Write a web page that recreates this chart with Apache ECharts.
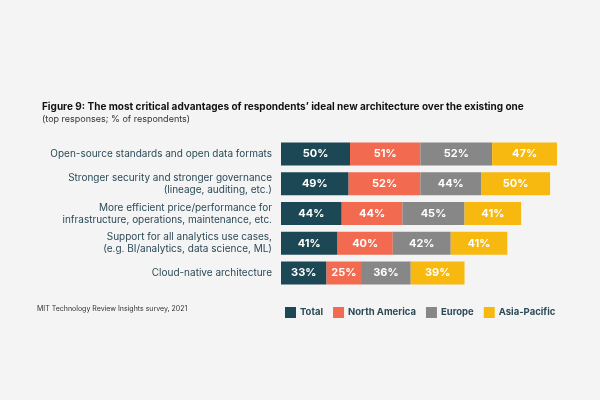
<!DOCTYPE html>
<html>
<head>
<meta charset="utf-8">
<script src="https://cdn.jsdelivr.net/npm/echarts@6/dist/echarts.min.js"></script>
<style>
html,body{margin:0;padding:0;background:#f4f4f4;}
#container1{width:600px;height:400px;}
</style>
</head>
<body>
<div id="container1"></div>
<script>
var categories = [
	'Open-source standards and open data formats',
	'Stronger security and stronger governance\n(lineage, auditing, etc.)',
	'More efficient price/performance for\ninfrastructure, operations, maintenance, etc.',
	'Support for all analytics use cases,\n(e.g. BI/analytics, data science, ML)',
	'Cloud-native architecture'
];
var seriesNames = ['Total', 'North America', 'Europe', 'Asia-Pacific'];
var total = [50, 49, 44, 41, 33];
var northAmerica = [51, 52, 44, 40, 25];
var europe = [52, 44, 45, 42, 36];
var asiaPacific = [47, 50, 41, 41, 39];
var colors = ['#1c4755', '#f26a4f', '#878787', '#f7b90f'];

var myChart = echarts.init(document.getElementById('container1'));
var values = [total, northAmerica, europe, asiaPacific];
var series = values.map(function (d, i) {
	return {
		name: seriesNames[i],
		type: 'bar',
		stack: 'all',
		barWidth: 23,
		data: d,
		itemStyle: {color: colors[i]},
		label: {
			show: true,
			position: 'inside',
			formatter: '{c}%',
			color: '#ffffff',
			fontFamily: 'Inter',
			fontWeight: 'bold',
			fontSize: 11
		}
	};
});

var option = {
	backgroundColor: '#f4f4f4',
	color: colors,
	title: {
		text: 'Figure 9: The most critical advantages of respondents\u2019 ideal new architecture over the existing one',
		subtext: '(top responses; % of respondents)',
		left: 37,
		top: 97,
		itemGap: 3,
		textStyle: {fontFamily: 'Inter', fontSize: 10, fontWeight: 'bold', color: '#111111'},
		subtextStyle: {fontFamily: 'Inter', fontSize: 9, color: '#333333'}
	},
	legend: {
		data: seriesNames,
		left: 280,
		top: 302,
		itemWidth: 11,
		itemHeight: 11,
		itemGap: 10,
		icon: 'rect',
		textStyle: {fontFamily: 'Inter', fontSize: 9.5, fontWeight: 'bold', color: '#2b4a57', padding: [0, 0, 0, -1]}
	},
	graphic: [{
		type: 'text',
		left: 37,
		top: 305,
		style: {text: 'MIT Technology Review Insights survey, 2021', font: '7px Inter', fill: '#333333'}
	}],
	grid: {left: 281, right: 43, top: 139, bottom: 112},
	xAxis: {type: 'value', min: 0, max: 200, show: false},
	yAxis: {
		type: 'category',
		inverse: true,
		data: categories,
		axisLine: {show: false},
		axisTick: {show: false},
		axisLabel: {
			margin: 9,
			fontFamily: 'Inter',
			fontSize: 10,
			lineHeight: 12,
			color: '#2b4a57',
			align: 'right'
		}
	},
	series: series
};
myChart.setOption(option, true);
</script>
</body>
</html>
